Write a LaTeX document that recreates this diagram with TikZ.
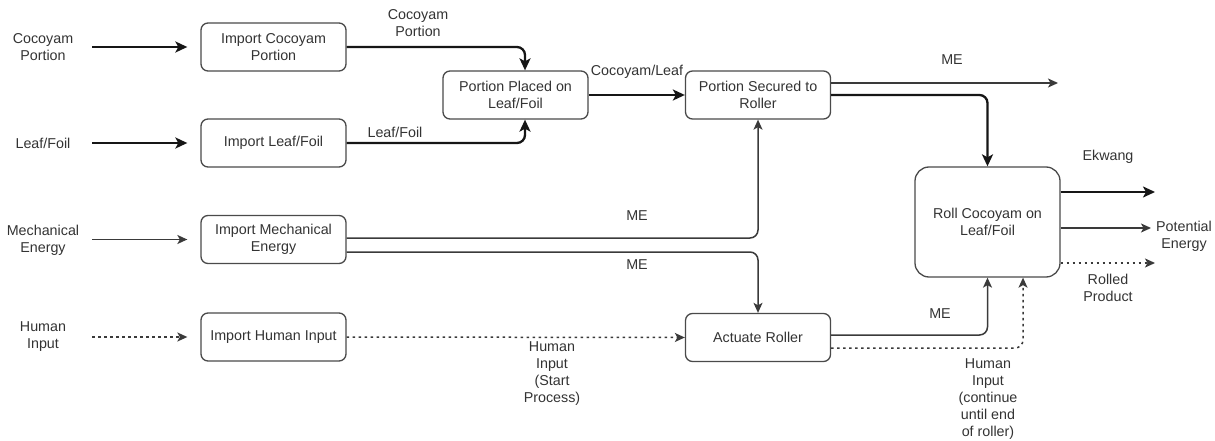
\documentclass[tikz,border=0pt]{standalone}
\usepackage{fontspec}
\setmainfont{Liberation Sans}
\usetikzlibrary{arrows.meta,calc}
\definecolor{ln}{HTML}{161616}
\definecolor{ln2}{HTML}{3A3A3A}
\definecolor{boxc}{HTML}{4A4A4A}
\definecolor{txt}{HTML}{333333}
\begin{document}
\begin{tikzpicture}[x=1pt,y=-1pt,
 font=\fontsize{14.3}{17}\selectfont,
 box/.style={draw=boxc, line width=1.3pt, rounded corners=7pt, minimum width=145pt, minimum height=48pt, align=center, inner sep=0pt, text=txt},
 lbl/.style={align=center, inner sep=0pt, text=txt},
 thk/.style={draw=ln, line width=2.3pt, rounded corners=8pt, -{Stealth[length=12pt,width=11pt,inset=3pt]}},
 med/.style={draw=ln2, line width=1.5pt, rounded corners=8pt, -{Stealth[length=10pt,width=9pt,inset=2.5pt]}},
 dot/.style={draw=ln2, line width=1.5pt, rounded corners=8pt, dash pattern=on 2.5pt off 3.5pt, -{Stealth[length=10pt,width=9pt,inset=2.5pt]}},
]
\useasboundingbox (0,0) rectangle (1215,441);

% boxes
\node[box] (IC) at (273.5,47) {Import Cocoyam\\Portion};
\node[box] (IL) at (273.5,143) {Import Leaf/Foil};
\node[box] (IM) at (273.5,239.5) {Import Mechanical\\Energy};
\node[box] (IH) at (273.5,337) {Import Human Input};
\node[box] (PP) at (515.5,95) {Portion Placed on\\Leaf/Foil};
\node[box] (PS) at (758,95) {Portion Secured to\\Roller};
\node[box] (AR) at (758,337.5) {Actuate Roller};
\node[box, minimum height=110pt, rounded corners=14pt] (RC) at (987.5,222) {Roll Cocoyam on\\Leaf/Foil};

% input labels
\node[lbl] (LC) at (43,47) {Cocoyam\\Portion};
\node[lbl] (LL) at (43,143) {Leaf/Foil};
\node[lbl] (LM) at (43,240) {Mechanical\\Energy};
\node[lbl] (LH) at (43,337) {Human\\Input};

\coordinate (s1) at (92,47);
\coordinate (s2) at (92,143);
\coordinate (s3) at (92,239.5);
\coordinate (s4) at (92,337);
\draw[thk, shorten >=13pt] (s1) -- (IC.west);
\draw[thk, shorten >=13pt] (s2) -- (IL.west);
\draw[med, shorten >=13pt] (s3) -- (IM.west);
\draw[dot, shorten >=13pt] (s4) -- (IH.west);

% imports to placement
\draw[thk] (IC.east) -| ($(PP.north)+(9.5,0)$);
\node[lbl] (lcp) at (418,23) {Cocoyam\\Portion};
\draw[thk] (IL.east) -| ($(PP.south)+(9.5,0)$);
\node[lbl] (llf) at (395,132) {Leaf/Foil};

\draw[thk] (PP.east) -- (PS.west);
\node[lbl, fill=white, inner sep=1pt] (lcl) at (637,72) {Cocoyam/Leaf};

% mechanical energy
\draw[med] ($(IM.east)+(0,-1.5)$) -| (PS.south);
\node[lbl] (lme1) at (637,216) {ME};
\draw[med] ($(IM.east)+(0,12.5)$) -| (AR.north);
\node[lbl] (lme2) at (637,265) {ME};

% human input
\draw[dot] (IH.east) -- (AR.west);
\node[lbl] (lhs) at (552,374) {Human\\Input\\(Start\\Process)};

% secured outputs
\coordinate (meo) at (1058,83);
\draw[med] ($(PS.east)+(0,-12)$) -- (meo);
\node[lbl] (lme3) at (952,60) {ME};
\draw[thk] (PS.east) -| (RC.north);

% actuate outputs
\draw[med] ($(AR.east)+(0,-2.5)$) -| (RC.south);
\node[lbl] (lme4) at (940,314) {ME};
\draw[dot] ($(AR.east)+(0,10.5)$) -| ($(RC.south)+(35.5,0)$);
\node[lbl] (lhc) at (988,399) {Human\\Input\\(continue\\until end\\of roller)};

% roll outputs
\coordinate (oe) at (1155,192);
\coordinate (op) at (1151,228);
\coordinate (or) at (1155,263);
\draw[thk] ($(RC.east)+(0,-30)$) -- (oe);
\node[lbl] (lek) at (1108,157) {Ekwang};
\draw[med] ($(RC.east)+(0,6)$) -- (op);
\node[lbl] (lpe) at (1184,236) {Potential\\Energy};
\draw[dot] ($(RC.east)+(0,41)$) -- (or);
\node[lbl] (lrp) at (1108,288) {Rolled\\Product};
\end{tikzpicture}
\end{document}
